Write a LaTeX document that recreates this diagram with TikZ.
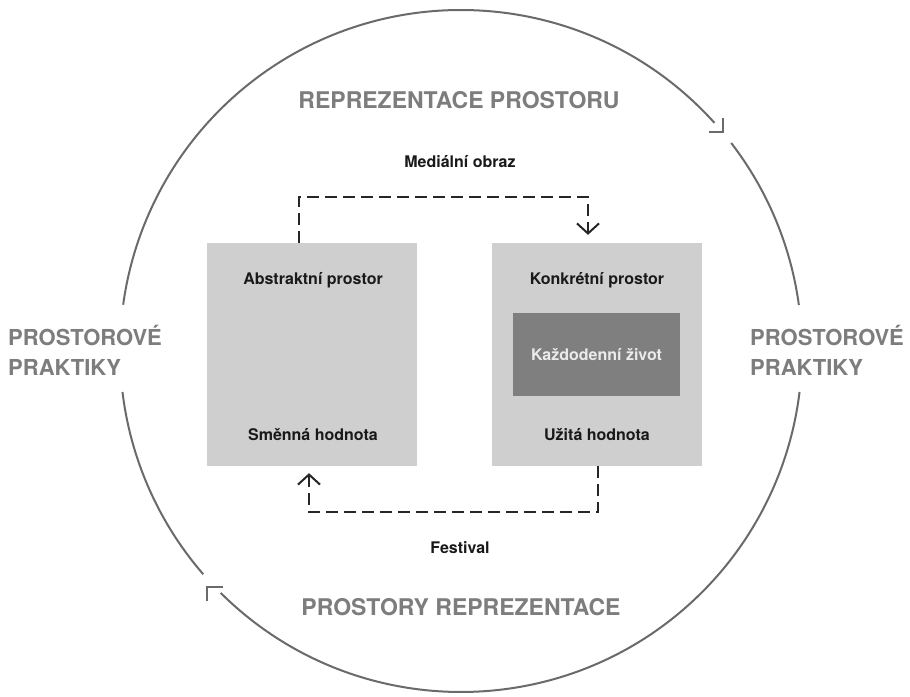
\documentclass[tikz,border=0pt]{standalone}
\usepackage{fontspec}
\setmainfont{TeX Gyre Heros}
\usetikzlibrary{arrows.meta}
\definecolor{boxgray}{HTML}{CFCFCF}
\definecolor{darkbox}{HTML}{7F7F7F}
\definecolor{labgray}{HTML}{7D7D7D}
\definecolor{ringgray}{HTML}{6A6A6A}
\begin{document}
\begin{tikzpicture}[x=1pt,y=1pt,
  ring/.style={draw=ringgray, line width=2pt},
  lbox/.style={fill=boxgray, draw=none, minimum width=210pt, minimum height=223pt, inner sep=0},
  ibox/.style={fill=darkbox, draw=none, minimum width=167pt, minimum height=83pt, inner sep=0, text=white!92!black, font=\fontsize{16}{19}\selectfont\bfseries},
  btxt/.style={font=\fontsize{16}{19}\selectfont\bfseries, text=black!90, inner sep=0},
  glab/.style={font=\fontsize{23}{30}\selectfont\bfseries, text=labgray, inner sep=0},
  slab/.style={font=\fontsize{22}{30}\selectfont\bfseries, text=labgray, inner sep=0, anchor=west, align=left},
  flow/.style={draw=black!85, line width=2.2pt, dash pattern=on 12pt off 6pt, line join=miter,
    -{Straight Barb[length=10pt,width=22pt,line width=2pt]}}
]
\useasboundingbox[fill=white] (0,0) rectangle (910,-696);

% ring
\coordinate (c) at (461,-351);
\draw[ring] (c) ++(7.75:341) arc[start angle=7.75, end angle=37.6, radius=341];
\draw[ring] (c) ++(42:341) arc[start angle=42, end angle=172.2, radius=341];
\draw[ring] (c) ++(186.9:341) arc[start angle=186.9, end angle=220.9, radius=341];
\draw[ring] (c) ++(225.2:341) arc[start angle=225.2, end angle=353.1, radius=341];
\coordinate (tr) at (723,-132);
\coordinate (bl) at (207,-587);
\draw[ring, line cap=butt, line join=miter] ([xshift=-14pt]tr) -- (tr) -- ([yshift=14pt]tr);
\draw[ring, line cap=butt, line join=miter] ([xshift=16pt]bl) -- (bl) -- ([yshift=-14pt]bl);

% ring labels
\node[glab] (rp) at (459,-100) {REPREZENTACE PROSTORU};
\node[glab] (pr) at (461,-607) {PROSTORY REPREZENTACE};
\node[slab] (ppl) at (8,-350) {PROSTOROVÉ\\PRAKTIKY};
\node[slab] (ppr) at (750,-350) {PROSTOROVÉ\\PRAKTIKY};

% boxes
\node[lbox] (abs) at (312,-354.5) {};
\node[lbox] (kon) at (597,-354.5) {};
\node[ibox] (kaz) at (596.5,-354.5) {Každodenní život};
\node[btxt] (abst) at (313,-280) {Abstraktní prostor};
\node[btxt] (smen) at (313,-435) {Směnná hodnota};
\node[btxt] (kont) at (597,-280) {Konkrétní prostor};
\node[btxt] (uzit) at (597,-435) {Užitá hodnota};

% flows
\node[btxt] (med) at (460,-162) {Mediální obraz};
\node[btxt] (fest) at (460,-548) {Festival};
\coordinate (mL) at (299,-197);
\coordinate (mR) at (588,-197);
\coordinate (fR) at (598,-512);
\coordinate (fL) at (309,-512);
\draw[flow, shorten >=8pt] (abs.north -| mL) -- (mL) -- (mR) -- (kon.north -| mR);
\draw[flow, shorten >=7pt] (kon.south -| fR) -- (fR) -- (fL) -- (abs.south -| fL);
\end{tikzpicture}
\end{document}
